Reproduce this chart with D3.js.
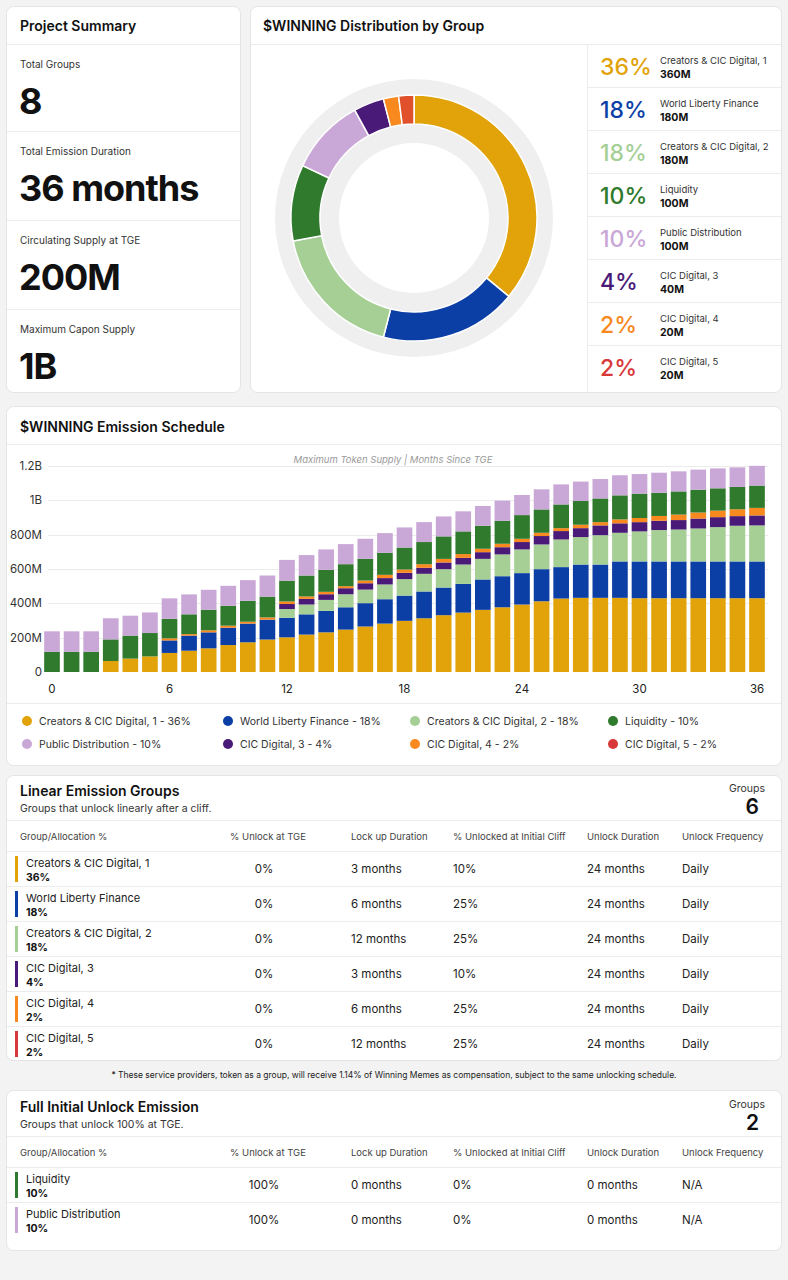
<!DOCTYPE html>
<html>
<head>
<meta charset="utf-8">
<script src="https://cdn.jsdelivr.net/npm/d3@7"></script>
<style>
  body { margin: 0; background: #f3f3f3; font-family: Inter, "Helvetica Neue", Arial, sans-serif; }
  svg text { font-family: Inter, "Helvetica Neue", Arial, sans-serif; }
</style>
</head>
<body>
<svg id="page"></svg>
<script>
// ---- data ----
var groupNames = ["Creators & CIC Digital, 1", "World Liberty Finance", "Creators & CIC Digital, 2",
    "Liquidity", "Public Distribution", "CIC Digital, 3", "CIC Digital, 4", "CIC Digital, 5"];
var groupShares = [36, 18, 18, 10, 10, 4, 2, 2];
var groupAmounts = ["360M", "180M", "180M", "100M", "100M", "40M", "20M", "20M"];
var groupColors = ["#e2a30a", "#0c3fa6", "#a6cf96", "#2f7a2c", "#c9a7d6", "#4a1a78", "#f7891e", "#d8383a"];
var donutColors = ["#e2a30a", "#0c3fa6", "#a6cf96", "#2f7a2c", "#c9a7d6", "#4a1a78", "#f7891e", "#e0502a"];

var summaryLabels = ["Total Groups", "Total Emission Duration", "Circulating Supply at TGE", "Maximum Capon Supply"];
var summaryValues = ["8", "36 months", "200M", "1B"];

var months = [0,1,2,3,4,5,6,7,8,9,10,11,12,13,14,15,16,17,18,19,20,21,22,23,24,25,26,27,28,29,30,31,32,33,34,35,36];
var monthTicks = [0, 6, 12, 18, 24, 30, 36];
var yTicks = [0, 200, 400, 600, 800, 1000, 1200];
var yTickLabels = ["0", "200M", "400M", "600M", "800M", "1B", "1.2B"];

// emitted supply per group, millions of tokens, by month
var creators1 = [0,0,0,64,78,91,111,124,138,157,173,189,202,218,231,247,265,282,298,313,331,346,362,377,393,412,428,432,432,432,430,430,430,430,430,430,430];
var worldLiberty = [0,0,0,0,0,0,73,88,93,101,109,116,114,118,125,130,136,142,147,156,161,167,177,181,183,187,183,194,194,212,214,214,214,214,214,214,214];
var creators2 = [0,0,0,0,0,0,0,0,0,0,0,0,51,57,64,76,79,86,96,103,107,113,120,127,138,144,161,160,171,167,175,183,186,192,200,208,210];
var cic3 = [0,0,0,0,0,0,0,0,0,0,0,0,29,33,33,35,37,37,37,35,39,39,39,42,43,49,49,52,57,55,54,54,55,58,58,56,58];
var cic4 = [0,0,0,0,0,0,12,9,12,12,11,13,15,14,14,12,16,19,19,21,21,22,20,20,19,19,17,20,19,23,24,28,32,35,38,40,44];
var cic5 = [0,0,0,0,0,0,0,0,0,0,0,0,0,0,0,0,0,0,0,0,0,0,0,0,0,0,0,0,0,0,0,0,0,0,0,0,0];
var liquidity = [118,118,118,126,134,136,114,115,120,116,122,121,121,122,128,128,126,128,128,129,131,132,134,134,138,136,138,138,138,140,142,135,135,133,130,130,130];
var publicDist = [119,119,119,123,116,120,119,116,116,116,120,123,121,119,119,117,117,115,117,116,116,117,115,117,117,117,117,113,113,117,114,117,117,117,116,114,115];

var tableHeaders = ["Group/Allocation %", "% Unlock at TGE", "Lock up Duration", "% Unlocked at Initial Cliff", "Unlock Duration", "Unlock Frequency"];

var linearGroups = [0, 1, 2, 5, 6, 7];
var linearTge = ["0%", "0%", "0%", "0%", "0%", "0%"];
var linearLock = ["3 months", "6 months", "12 months", "3 months", "6 months", "12 months"];
var linearCliff = ["10%", "25%", "25%", "10%", "25%", "25%"];
var linearDuration = ["24 months", "24 months", "24 months", "24 months", "24 months", "24 months"];
var linearFreq = ["Daily", "Daily", "Daily", "Daily", "Daily", "Daily"];

var fullGroups = [3, 4];
var fullTge = ["100%", "100%"];
var fullLock = ["0 months", "0 months"];
var fullCliff = ["0%", "0%"];
var fullDuration = ["0 months", "0 months"];
var fullFreq = ["N/A", "N/A"];

// ---- page ----
var W = 788, H = 1280;
var svg = d3.select("#page").attr("width", W).attr("height", H);
svg.append("rect").attr("width", W).attr("height", H).attr("fill", "#f3f3f3");

function card(x, y, w, h) {
    svg.append("rect")
        .attr("x", x + 0.5).attr("y", y + 0.5)
        .attr("width", w).attr("height", h)
        .attr("rx", 7)
        .attr("fill", "#fff")
        .attr("stroke", "#e4e4e4");
}
function hline(x1, x2, y) {
    svg.append("line")
        .attr("x1", x1).attr("x2", x2)
        .attr("y1", y + 0.5).attr("y2", y + 0.5)
        .attr("stroke", "#ececec");
}
function text(x, y, s, size, opts) {
    opts = opts || {};
    return svg.append("text")
        .attr("x", x).attr("y", y)
        .attr("font-size", size)
        .attr("font-weight", opts.weight || 400)
        .attr("fill", opts.fill || "#222")
        .attr("text-anchor", opts.anchor || "start")
        .attr("font-style", opts.style || "normal")
        .attr("letter-spacing", opts.spacing || 0)
        .text(s);
}

// Project summary
card(6, 6, 234, 386);
text(20, 31, "Project Summary", 14, { weight: 600, fill: "#111" });
hline(7, 240, 44);
var sumTop = [44, 131, 220, 309];
summaryLabels.forEach(function (lab, i) {
    if (i > 0) hline(7, 240, sumTop[i]);
    text(20, sumTop[i] + 24, lab, 10, { fill: "#333" });
    text(19, sumTop[i] + 70, summaryValues[i], 36, { weight: 700, fill: "#111", spacing: -1 });
});

// Distribution donut
card(250, 6, 531, 386);
text(263, 31, "$WINNING Distribution by Group", 14, { weight: 600, fill: "#111" });
hline(251, 781, 44);

var cx = 414, cy = 218;
var donut = svg.append("g").attr("transform", "translate(" + cx + "," + cy + ")");
donut.append("path")
    .attr("d", d3.arc().innerRadius(75).outerRadius(139).startAngle(0).endAngle(2 * Math.PI)())
    .attr("fill", "#efefef");
var pie = d3.pie().sort(null).value(function (d) { return d; });
var arc = d3.arc().innerRadius(94).outerRadius(123);
donut.selectAll("path.slice")
    .data(pie(groupShares))
    .enter()
    .append("path")
    .attr("class", "slice")
    .attr("d", arc)
    .attr("fill", function (d, i) { return donutColors[i]; })
    .attr("stroke", "#fff")
    .attr("stroke-width", 1.5);

// right legend list
svg.append("line").attr("x1", 587.5).attr("x2", 587.5).attr("y1", 44).attr("y2", 392).attr("stroke", "#ececec");
var rowH = 43;
groupNames.forEach(function (name, i) {
    var top = 44 + i * rowH;
    if (i > 0) hline(588, 781, top);
    text(600, top + 31, groupShares[i] + "%", 23, { weight: 500, fill: groupColors[i] });
    text(660, top + 20, name, 9.5, { fill: "#333" });
    text(660, top + 34, groupAmounts[i], 10.5, { weight: 700, fill: "#111" });
});

// Emission schedule
card(6, 406, 775, 359);
text(20, 432, "$WINNING Emission Schedule", 14, { weight: 600, fill: "#111" });
hline(7, 781, 444);
text(393, 463, "Maximum Token Supply | Months Since TGE", 9.5, { fill: "#999", anchor: "middle", style: "italic" });

var y = d3.scaleLinear().domain([0, 1200]).range([672, 466]);
var step = (757 - 52) / 36;
var x = d3.scaleBand().domain(months).range([52 - step / 2, 757 + step / 2]).paddingInner(0.2).paddingOuter(0.1);

var chart = svg.append("g");
chart.selectAll("line.grid")
    .data(yTicks.slice(1))
    .enter()
    .append("line")
    .attr("class", "grid")
    .attr("x1", 48).attr("x2", 768)
    .attr("y1", function (d) { return Math.round(y(d)) + 0.5; })
    .attr("y2", function (d) { return Math.round(y(d)) + 0.5; })
    .attr("stroke", "#ebebeb");

chart.selectAll("text.ytick")
    .data(yTicks)
    .enter()
    .append("text")
    .attr("class", "ytick")
    .attr("x", 42)
    .attr("y", function (d) { return y(d) + 4; })
    .attr("text-anchor", "end")
    .attr("font-size", 11.5)
    .attr("fill", "#333")
    .text(function (d, i) { return yTickLabels[i]; });

var stackSeries = [creators1, worldLiberty, creators2, cic3, cic4, cic5, liquidity, publicDist];
var stackColors = [groupColors[0], groupColors[1], groupColors[2], groupColors[5], groupColors[6], groupColors[7], groupColors[3], groupColors[4]];
var rows = months.map(function (m, i) {
    var r = { month: m };
    stackSeries.forEach(function (s, k) { r["s" + k] = s[i]; });
    return r;
});
var keys = stackSeries.map(function (s, k) { return "s" + k; });
var stacked = d3.stack().keys(keys)(rows);

chart.selectAll("g.layer")
    .data(stacked)
    .enter()
    .append("g")
    .attr("class", "layer")
    .attr("fill", function (d, k) { return stackColors[k]; })
    .selectAll("rect")
    .data(function (d) { return d; })
    .enter()
    .append("rect")
    .attr("x", function (d) { return x(d.data.month); })
    .attr("width", x.bandwidth())
    .attr("y", function (d) { return y(d[1]); })
    .attr("height", function (d) { return Math.max(0, y(d[0]) - y(d[1])); });

chart.selectAll("text.xtick")
    .data(monthTicks)
    .enter()
    .append("text")
    .attr("class", "xtick")
    .attr("x", function (d) { return x(d) + x.bandwidth() / 2; })
    .attr("y", 693)
    .attr("text-anchor", "middle")
    .attr("font-size", 11.5)
    .attr("fill", "#222")
    .text(function (d) { return d; });

hline(7, 781, 703);
var legendX = [27, 228, 415, 613];
groupNames.forEach(function (name, i) {
    var lx = legendX[i % 4], ly = 721 + Math.floor(i / 4) * 23;
    svg.append("circle").attr("cx", lx).attr("cy", ly).attr("r", 5).attr("fill", groupColors[i]);
    text(lx + 12, ly + 4, name + " - " + groupShares[i] + "%", 10.5, { fill: "#333" });
});

// tables
var colX = [20, 268, 351, 453, 587, 682];
function table(top, title, sub, count, idx, cols) {
    text(20, top + 21, title, 14, { weight: 600, fill: "#111" });
    text(20, top + 37, sub, 10.5, { fill: "#333" });
    text(765, top + 17, "Groups", 10.5, { fill: "#333", anchor: "end" });
    text(759, top + 39, count, 21, { weight: 600, fill: "#111", anchor: "end" });
    hline(7, 781, top + 45);
    tableHeaders.forEach(function (h, c) {
        text(colX[c], top + 65, h, 9.5, { fill: "#444", anchor: c === 1 ? "middle" : "start" });
    });
    hline(7, 781, top + 76);
    idx.forEach(function (g, r) {
        var rt = top + 76 + r * 35;
        if (r > 0) hline(7, 781, rt);
        svg.append("rect").attr("x", 15).attr("y", rt + 5).attr("width", 3).attr("height", 26).attr("fill", groupColors[g]);
        text(26, rt + 16, groupNames[g], 11, { fill: "#222" });
        text(26, rt + 30, groupShares[g] + "%", 10.5, { weight: 700, fill: "#111" });
        cols.forEach(function (col, c) {
            text(c === 0 ? 264 : colX[c + 1], rt + 22, col[r], 11.5, { fill: "#222", anchor: c === 0 ? "middle" : "start" });
        });
    });
}

card(6, 775, 775, 285);
table(775, "Linear Emission Groups", "Groups that unlock linearly after a cliff.", "6", linearGroups,
    [linearTge, linearLock, linearCliff, linearDuration, linearFreq]);

text(394, 1078, "* These service providers, token as a group, will receive 1.14% of Winning Memes as compensation, subject to the same unlocking schedule.",
    8.5, { fill: "#222", anchor: "middle" });

card(6, 1090, 775, 160);
table(1091, "Full Initial Unlock Emission", "Groups that unlock 100% at TGE.", "2", fullGroups,
    [fullTge, fullLock, fullCliff, fullDuration, fullFreq]);
</script>
</body>
</html>
